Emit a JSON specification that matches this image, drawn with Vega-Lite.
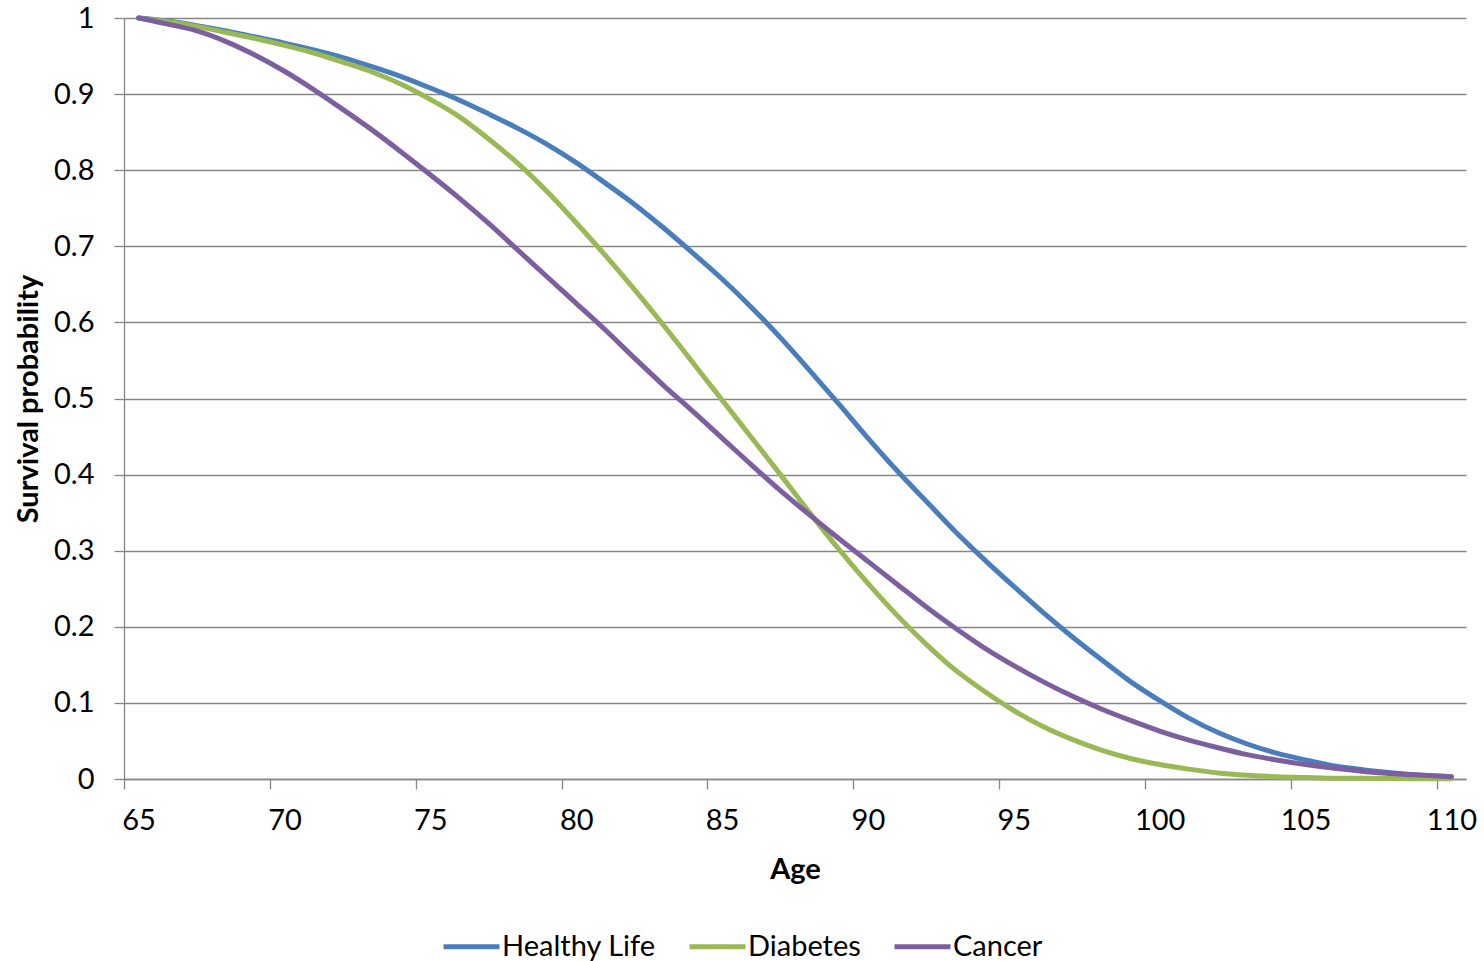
{
  "$schema": "https://vega.github.io/schema/vega-lite/v6.json",
  "width": 1342,
  "height": 761,
  "autosize": {"type": "none"},
  "padding": {"left": 124, "top": 18, "right": 18, "bottom": 182},
  "background": "white",
  "config": {
    "font": "Lato",
    "view": {"stroke": null},
    "axis": {
      "domainColor": "#868686",
      "tickColor": "#868686",
      "gridColor": "#868686",
      "domainWidth": 1.3,
      "tickWidth": 1.3,
      "gridWidth": 1.3,
      "tickSize": 10,
      "labelFontSize": 29,
      "labelColor": "#000000",
      "titleFontSize": 29,
      "titleFontWeight": "bold",
      "titleColor": "#000000",
      "labelFlush": false,
      "labelOverlap": false
    }
  },
  "data": {
    "values": [
      {"age": 65, "Healthy Life": 1.000, "Diabetes": 1.000, "Cancer": 1.000},
      {"age": 66, "Healthy Life": 0.996, "Diabetes": 0.995, "Cancer": 0.992},
      {"age": 67, "Healthy Life": 0.990, "Diabetes": 0.989, "Cancer": 0.983},
      {"age": 68, "Healthy Life": 0.983, "Diabetes": 0.981, "Cancer": 0.969},
      {"age": 69, "Healthy Life": 0.975, "Diabetes": 0.973, "Cancer": 0.951},
      {"age": 70, "Healthy Life": 0.967, "Diabetes": 0.964, "Cancer": 0.930},
      {"age": 71, "Healthy Life": 0.958, "Diabetes": 0.954, "Cancer": 0.906},
      {"age": 72, "Healthy Life": 0.948, "Diabetes": 0.942, "Cancer": 0.880},
      {"age": 73, "Healthy Life": 0.936, "Diabetes": 0.929, "Cancer": 0.853},
      {"age": 74, "Healthy Life": 0.923, "Diabetes": 0.913, "Cancer": 0.824},
      {"age": 75, "Healthy Life": 0.908, "Diabetes": 0.893, "Cancer": 0.794},
      {"age": 76, "Healthy Life": 0.892, "Diabetes": 0.870, "Cancer": 0.763},
      {"age": 77, "Healthy Life": 0.874, "Diabetes": 0.841, "Cancer": 0.730},
      {"age": 78, "Healthy Life": 0.855, "Diabetes": 0.809, "Cancer": 0.695},
      {"age": 79, "Healthy Life": 0.834, "Diabetes": 0.772, "Cancer": 0.660},
      {"age": 80, "Healthy Life": 0.810, "Diabetes": 0.731, "Cancer": 0.625},
      {"age": 81, "Healthy Life": 0.783, "Diabetes": 0.688, "Cancer": 0.590},
      {"age": 82, "Healthy Life": 0.755, "Diabetes": 0.643, "Cancer": 0.553},
      {"age": 83, "Healthy Life": 0.724, "Diabetes": 0.596, "Cancer": 0.517},
      {"age": 84, "Healthy Life": 0.691, "Diabetes": 0.547, "Cancer": 0.483},
      {"age": 85, "Healthy Life": 0.657, "Diabetes": 0.498, "Cancer": 0.448},
      {"age": 86, "Healthy Life": 0.620, "Diabetes": 0.449, "Cancer": 0.413},
      {"age": 87, "Healthy Life": 0.580, "Diabetes": 0.400, "Cancer": 0.379},
      {"age": 88, "Healthy Life": 0.537, "Diabetes": 0.350, "Cancer": 0.347},
      {"age": 89, "Healthy Life": 0.493, "Diabetes": 0.302, "Cancer": 0.316},
      {"age": 90, "Healthy Life": 0.448, "Diabetes": 0.257, "Cancer": 0.286},
      {"age": 91, "Healthy Life": 0.405, "Diabetes": 0.215, "Cancer": 0.256},
      {"age": 92, "Healthy Life": 0.365, "Diabetes": 0.177, "Cancer": 0.226},
      {"age": 93, "Healthy Life": 0.325, "Diabetes": 0.143, "Cancer": 0.198},
      {"age": 94, "Healthy Life": 0.288, "Diabetes": 0.115, "Cancer": 0.172},
      {"age": 95, "Healthy Life": 0.253, "Diabetes": 0.090, "Cancer": 0.149},
      {"age": 96, "Healthy Life": 0.219, "Diabetes": 0.069, "Cancer": 0.128},
      {"age": 97, "Healthy Life": 0.187, "Diabetes": 0.052, "Cancer": 0.109},
      {"age": 98, "Healthy Life": 0.157, "Diabetes": 0.038, "Cancer": 0.092},
      {"age": 99, "Healthy Life": 0.128, "Diabetes": 0.027, "Cancer": 0.077},
      {"age": 100, "Healthy Life": 0.103, "Diabetes": 0.019, "Cancer": 0.063},
      {"age": 101, "Healthy Life": 0.080, "Diabetes": 0.013, "Cancer": 0.051},
      {"age": 102, "Healthy Life": 0.061, "Diabetes": 0.008, "Cancer": 0.041},
      {"age": 103, "Healthy Life": 0.046, "Diabetes": 0.005, "Cancer": 0.032},
      {"age": 104, "Healthy Life": 0.034, "Diabetes": 0.003, "Cancer": 0.025},
      {"age": 105, "Healthy Life": 0.025, "Diabetes": 0.002, "Cancer": 0.019},
      {"age": 106, "Healthy Life": 0.017, "Diabetes": 0.001, "Cancer": 0.014},
      {"age": 107, "Healthy Life": 0.012, "Diabetes": 0.001, "Cancer": 0.010},
      {"age": 108, "Healthy Life": 0.008, "Diabetes": 0.0005, "Cancer": 0.007},
      {"age": 109, "Healthy Life": 0.005, "Diabetes": 0.0003, "Cancer": 0.005},
      {"age": 110, "Healthy Life": 0.003, "Diabetes": 0.0002, "Cancer": 0.003}
    ]
  },
  "transform": [
    {"fold": ["Healthy Life", "Diabetes", "Cancer"], "as": ["series", "p"]}
  ],
  "mark": {"type": "line", "strokeWidth": 5, "strokeCap": "round", "strokeJoin": "round", "interpolate": "monotone"},
  "encoding": {
    "x": {
      "field": "age",
      "type": "quantitative",
      "scale": {"domain": [64.5, 110.5], "nice": false, "zero": false},
      "axis": {
        "title": "Age",
        "grid": false,
        "values": [64.5, 69.5, 74.5, 79.5, 84.5, 89.5, 94.5, 99.5, 104.5, 109.5],
        "labelExpr": "format(datum.value + 0.5, 'd')",
        "labelOffset": 14.58,
        "labelPadding": 17,
        "titlePadding": 20
      }
    },
    "y": {
      "field": "p",
      "type": "quantitative",
      "scale": {"domain": [0, 1], "nice": false},
      "axis": {
        "title": "Survival probability",
        "grid": true,
        "values": [0, 0.1, 0.2, 0.3, 0.4, 0.5, 0.6, 0.7, 0.8, 0.9, 1],
        "format": "~g",
        "labelPadding": 20,
        "titlePadding": 10
      }
    },
    "color": {
      "field": "series",
      "type": "nominal",
      "sort": ["Healthy Life", "Diabetes", "Cancer"],
      "scale": {
        "domain": ["Healthy Life", "Diabetes", "Cancer"],
        "range": ["#4A7EBB", "#98B954", "#7D5FA0"]
      },
      "legend": {
        "orient": "none",
        "legendX": 317,
        "legendY": 898,
        "direction": "horizontal",
        "title": null,
        "symbolType": "stroke",
        "symbolSize": 3136,
        "symbolStrokeWidth": 5,
        "labelFontSize": 29,
        "labelColor": "#000000",
        "labelOffset": 0,
        "columnPadding": 23,
        "labelLimit": 400
      }
    }
  }
}
